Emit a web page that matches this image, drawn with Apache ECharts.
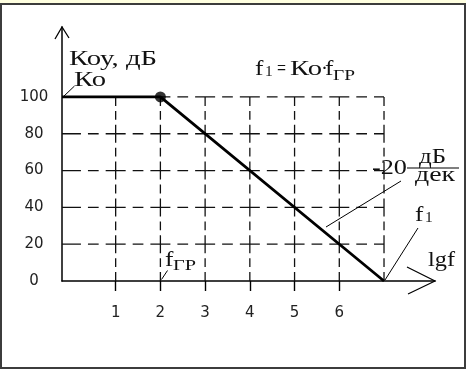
<!DOCTYPE html>
<html>
<head>
<meta charset="utf-8">
<script src="https://cdn.jsdelivr.net/npm/echarts@6/dist/echarts.min.js"></script>
<style>
  html, body { margin: 0; padding: 0; width: 466px; height: 369px; overflow: hidden; background: #ffffe0; }
  #frame { position: absolute; left: 0; top: 3px; width: 462px; height: 362px; border: 2px solid #3c3c3c; background: #ffffff; }
  #chart { position: absolute; left: 0; top: 0; width: 466px; height: 369px; }
</style>
</head>
<body>
<div id="frame"></div>
<div id="chart"></div>
<script>
// Asymptotic frequency response of an op-amp: lg f on x, gain K (dB) on y
const responseX = [-0.2, 2, 7];      // lg f: start at axis, f_гр, f1
const responseY = [100, 100, 0];     // Коу, дБ
const kneeIndex = 1;                 // point f_гр
const xTickValues = [1, 2, 3, 4, 5, 6];
const xGridValues = [1, 2, 3, 4, 5, 6, 7];
const yTickValues = [0, 20, 40, 60, 80, 100];
const yGridValues = [20, 40, 60, 80, 100];
const xMin = -0.2, xMax = 8.14, yMin = 0, yMax = 138;

const INK = '#111';
const SERIF = '"Liberation Serif", "Times New Roman", serif';

const chart = echarts.init(document.getElementById('chart'), null, { renderer: 'canvas' });

const mainSeries = [
  {
    name: 'K', type: 'line', z: 4,
    data: responseX.map((x, i) => [x, responseY[i]]),
    symbol: 'none',
    lineStyle: { color: '#000', width: 2.8 }
  },
  {
    name: 'f_гр', type: 'scatter', z: 5,
    data: [[responseX[kneeIndex], responseY[kneeIndex]]],
    symbol: 'circle', symbolSize: 11,
    itemStyle: { color: '#000' }
  }
];

chart.setOption({
  animation: false,
  backgroundColor: 'transparent',
  grid: { left: 62, right: 31, top: 27, bottom: 88 },
  xAxis: {
    type: 'value', min: xMin, max: xMax,
    axisLine: { show: true, onZero: false, lineStyle: { color: '#000', width: 1.5 } },
    axisTick: { show: true, customValues: xTickValues, length: 10, inside: false, lineStyle: { color: '#000', width: 1.4 } },
    axisLabel: { show: true, customValues: xTickValues, margin: 32, verticalAlign: 'middle',
      fontFamily: '"DejaVu Sans", sans-serif', fontSize: 15, color: '#222' },
    splitLine: { show: false }
  },
  yAxis: {
    type: 'value', min: yMin, max: yMax,
    axisLine: { show: true, onZero: false, lineStyle: { color: '#000', width: 1.5 } },
    axisTick: { show: false },
    axisLabel: { show: true, customValues: yTickValues, margin: 28, align: 'center',
      fontFamily: '"DejaVu Sans", sans-serif', fontSize: 15, color: '#222' },
    splitLine: { show: false }
  },
  series: mainSeries
});

// grid spacing in pixels, used to lay the dashes so that each crossing reads as a "+"
const toPx = v => chart.convertToPixel({ gridIndex: 0 }, v);
const pA = toPx([1, 0]);
const pB = toPx([2, 20]);
const pStart = toPx([xMin, 0]);
const sx = pB[0] - pA[0];
const sy = pA[1] - pB[1];
const mod = (a, m) => ((a % m) + m) % m;

const hArm = 10, hGap = 7;
const hPattern = [2 * hArm, hGap, Math.max(2, sx - 2 * hArm - 2 * hGap), hGap];
const vArm = 9, vGap = 5;
const vPattern = [2 * vArm, vGap, Math.max(2, sy - 2 * vArm - 2 * vGap), vGap];

const hOffsetAxis = mod(-((pA[0] - hArm) - pStart[0]), sx);
const hOffsetKnee = mod(hArm, sx);
const vOffset = mod(vArm, sy);

const gridLine = (name, pts, pattern, offset) => ({
  name: name, type: 'line', z: 2, silent: true, symbol: 'none',
  data: pts,
  lineStyle: { color: INK, width: 1.3, type: pattern, dashOffset: offset }
});

const lastX = xGridValues[xGridValues.length - 1];
const topY = yGridValues[yGridValues.length - 1];
const gridSeries = [];
yGridValues.forEach(y => {
  const atTop = y === responseY[kneeIndex];
  const fromX = atTop ? responseX[kneeIndex] : xMin;
  gridSeries.push(gridLine('h' + y, [[fromX, y], [lastX, y]], hPattern, atTop ? hOffsetKnee : hOffsetAxis));
});
xGridValues.forEach(x => {
  gridSeries.push(gridLine('v' + x, [[x, 0], [x, topY]], vPattern, vOffset));
});

// axis arrow heads (open chevrons)
const yTip = toPx([xMin, yMax]);
const xTip = toPx([xMax, 0]);
const stroke = (pts, w) => ({ type: 'polyline', silent: true, z: 10,
  shape: { points: pts }, style: { stroke: '#000', lineWidth: w || 1.2, fill: null } });

// text helper: left edge + baseline, stretched horizontally to a given width
const measureCtx = document.createElement('canvas').getContext('2d');
function txt(str, left, baseline, size, width, scale) {
  const font = size + 'px ' + SERIF;
  measureCtx.font = font;
  const w = measureCtx.measureText(str).width;
  const sX = width ? width / w : (scale || 1.15);
  return { type: 'text', silent: true, z: 10, x: left, y: baseline - 0.34 * size, scaleX: sX,
    style: { text: str, font: font, fill: INK, align: 'left', verticalAlign: 'middle' } };
}

const graphics = [
  stroke([[yTip[0] - 7, yTip[1] + 12], [yTip[0], yTip[1]], [yTip[0] + 7, yTip[1] + 11]], 1.3),
  stroke([[xTip[0] - 28, xTip[1] - 14], [xTip[0], xTip[1]], [xTip[0] - 27, xTip[1] + 13]], 1.2),

  // y axis caption
  txt('Коу, дБ', 69, 67, 21, 88),
  txt('Ко', 74, 88, 21, 32),
  stroke([[63, 97], [74.5, 86]], 1),

  // f1 = Ко·fгр
  txt('f', 255, 77, 21, null, 1.2),
  txt('1', 265, 77, 14, null, 1.1),
  txt('=', 277, 77, 21, 9),
  txt('Ко', 290, 77, 21, 32),
  txt('·', 321, 77, 21, null, 1.0),
  txt('f', 325, 77, 21, null, 1.2),
  txt('ГР', 333, 81, 14, 22),

  // slope −20 дБ/дек
  txt('-20', 372, 176, 22, 35),
  txt('дБ', 419, 165, 21, 27),
  txt('дек', 415, 183, 21, 40),
  stroke([[407, 168], [459, 168]], 1.2),
  stroke([[401, 181], [326, 227]], 1),

  // f1 marker
  txt('f', 415, 223, 21, null, 1.2),
  txt('1', 425, 223, 14, null, 1.1),
  stroke([[418, 228], [385, 280]], 1),

  // lg f axis caption
  txt('lgf', 428, 268, 20, 27),

  // f_гр marker
  txt('f', 165, 268, 21, null, 1.2),
  txt('ГР', 173, 271, 14, 23),
  stroke([[161.5, 279.5], [167.5, 270.5]], 1)
];

chart.setOption({
  series: mainSeries.concat(gridSeries),
  graphic: graphics
});
</script>
</body>
</html>
